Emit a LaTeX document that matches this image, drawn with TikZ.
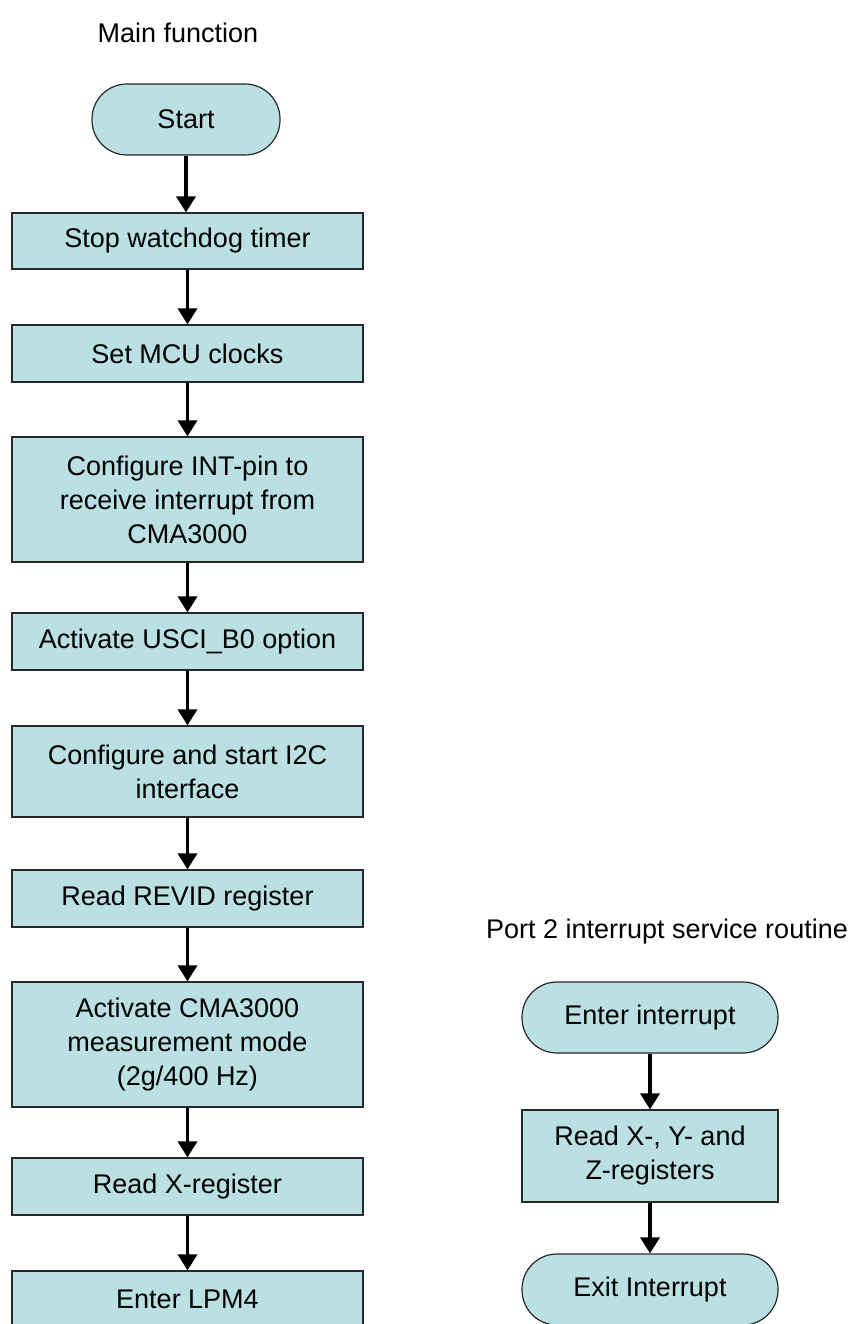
\documentclass[tikz,border=0pt]{standalone}
\usepackage{fontspec}
\setmainfont{Liberation Sans}
\usetikzlibrary{arrows.meta}
\definecolor{boxfill}{RGB}{187,224,227}
\definecolor{boxline}{RGB}{40,40,40}
\begin{document}
\begin{tikzpicture}[x=1pt,y=-1pt,
  every node/.style={font=\fontsize{27}{34}\selectfont, align=center, inner sep=0pt},
  procbox/.style={draw=boxline, fill=boxfill, line width=1.2pt, minimum width=351pt},
  rprocbox/.style={draw=boxline, fill=boxfill, line width=1.2pt, minimum width=256pt},
  termbox/.style={draw=boxline, fill=boxfill, line width=1.2pt, rounded corners=35pt, minimum height=71pt},
  flow/.style={line width=3.5pt, -{Triangle[width=19pt,length=16pt]}}]
\useasboundingbox (0,0) rectangle (858,1324);
\fill[white] (0,0) rectangle (858,1324);

% Main function column
\node (title1) at (178,33) {Main function};
\node[termbox, minimum width=188pt] (start) at (186,119.5) {Start};
\node[procbox, minimum height=56pt] (stop) at (187.5,241) {Stop watchdog timer};
\node[procbox, minimum height=57pt] (mcu) at (187.5,353.5) {Set MCU clocks};
\node[procbox, minimum height=125pt] (intpin) at (187.5,499.5) {Configure INT-pin to\\receive interrupt from\\CMA3000};
\node[procbox, minimum height=57pt] (usci) at (187.5,641.5) {Activate USCI\_B0 option};
\node[procbox, minimum height=91pt] (i2c) at (187.5,771.5) {Configure and start I2C\\interface};
\node[procbox, minimum height=57pt] (revid) at (187.5,898.5) {Read REVID register};
\node[procbox, minimum height=125pt] (cma) at (187.5,1044.5) {Activate CMA3000\\measurement mode\\(2g/400 Hz)};
\node[procbox, minimum height=57pt] (readx) at (187.5,1186.5) {Read X-register};
\node[procbox, minimum height=57pt] (lpm) at (187.5,1299.5) {Enter LPM4};

\draw[flow] (start.south) -- (start.south |- stop.north);
\draw[flow] (stop) -- (mcu);
\draw[flow] (mcu) -- (intpin);
\draw[flow] (intpin) -- (usci);
\draw[flow] (usci) -- (i2c);
\draw[flow] (i2c) -- (revid);
\draw[flow] (revid) -- (cma);
\draw[flow] (cma) -- (readx);
\draw[flow] (readx) -- (lpm);

% Interrupt service routine column
\node (title2) at (667,932) {Port 2 interrupt service routine};
\node[termbox, minimum width=256pt] (enter) at (650,1017.5) {Enter interrupt};
\node[rprocbox, minimum height=92pt] (readxyz) at (650,1156) {Read X-, Y- and\\Z-registers};
\node[termbox, minimum width=256pt] (exit) at (650,1289.5) {Exit Interrupt};

\draw[flow] (enter) -- (readxyz);
\draw[flow] (readxyz) -- (exit);
\end{tikzpicture}
\end{document}
